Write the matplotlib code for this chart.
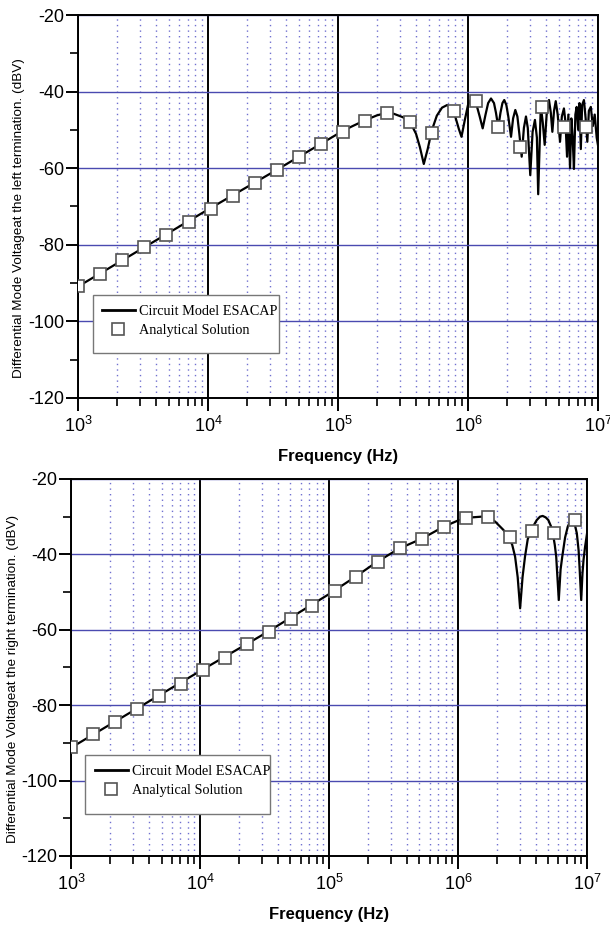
import numpy as np
import matplotlib
matplotlib.use('Agg')
import matplotlib.pyplot as plt
from matplotlib.lines import Line2D
from matplotlib.patches import Rectangle
from matplotlib.ticker import FixedLocator, MultipleLocator, LogLocator, FuncFormatter, NullFormatter

plt.rcParams['font.family'] = ['Liberation Sans', 'DejaVu Sans']
plt.rcParams['axes.unicode_minus'] = False

# marker frequencies (Hz), shared by both panels
marker_freq = [1.00e3, 1.48e3, 2.19e3, 3.24e3, 4.79e3, 7.08e3, 1.05e4, 1.55e4,
               2.29e4, 3.39e4, 5.01e4, 7.41e4, 1.10e5, 1.62e5, 2.40e5, 3.55e5,
               5.25e5, 7.76e5, 1.15e6, 1.70e6, 2.51e6, 3.72e6, 5.50e6, 8.13e6]

# analytical solution, left termination (dBV)
left_marker_db = [-90.8, -87.5, -84.0, -80.7, -77.4, -74.0, -70.7, -67.3,
                  -63.8, -60.5, -57.0, -53.8, -50.5, -47.7, -45.7, -47.9,
                  -50.7, -45.0, -42.4, -49.2, -54.5, -44.1, -49.2, -49.2]

# analytical solution, right termination (dBV)
right_marker_db = [-91.2, -87.7, -84.4, -80.9, -77.5, -74.3, -70.7, -67.4,
                   -63.9, -60.6, -57.2, -53.7, -49.7, -45.9, -41.9, -38.4,
                   -36.0, -32.7, -30.4, -30.0, -35.5, -33.7, -34.4, -31.0]

# circuit model ESACAP, left termination: log10(f) and dBV
left_logf = [3.0, 4.0, 4.5, 5.0, 5.1, 5.2, 5.3, 5.37, 5.43, 5.5, 5.56, 5.6, 5.63,
             5.66, 5.69, 5.72, 5.76, 5.8, 5.84, 5.87, 5.9, 5.93, 5.95, 5.975, 6.0,
             6.02, 6.04, 6.07, 6.09, 6.113, 6.135, 6.155, 6.177, 6.2, 6.215, 6.233,
             6.25, 6.265, 6.279, 6.295, 6.31, 6.331, 6.347, 6.364, 6.38, 6.395,
             6.413, 6.43, 6.446, 6.46, 6.479, 6.497, 6.515, 6.53, 6.54, 6.56,
             6.575, 6.59, 6.605, 6.623, 6.637, 6.649, 6.662, 6.675, 6.69, 6.708,
             6.722, 6.738, 6.75, 6.762, 6.772, 6.785, 6.795, 6.805, 6.815, 6.826,
             6.836, 6.848, 6.858, 6.868, 6.878, 6.892, 6.905, 6.918, 6.93, 6.945,
             6.96, 6.975, 6.99, 7.0]
left_db = [-90.9, -70.8, -61.0, -51.0, -49.2, -47.6, -46.2, -45.6, -45.8, -46.7,
           -48.3, -51.0, -54.5, -58.9, -55.0, -50.3, -46.3, -44.2, -43.5, -44.3,
           -46.3, -49.8, -51.8, -47.5, -43.5, -42.2, -42.3, -44.0, -46.5, -49.6,
           -46.0, -43.0, -41.8, -43.0, -45.5, -49.3, -45.5, -43.0, -42.2, -43.5,
           -46.5, -51.8, -47.0, -44.8, -46.5, -51.0, -57.0, -49.5, -46.5, -49.5,
           -61.8, -50.5, -47.4, -52.0, -66.8, -43.8, -48.0, -53.9, -46.0, -42.2,
           -45.5, -50.5, -45.0, -42.5, -46.0, -53.1, -46.5, -44.4, -48.0, -57.0,
           -46.0, -60.0, -47.0, -52.0, -60.2, -46.0, -44.0, -50.0, -43.0, -55.0,
           -43.5, -42.2, -47.0, -53.1, -45.0, -44.0, -49.0, -46.0, -52.0, -54.0]

# circuit model ESACAP, right termination: log10(f) and dBV
right_logf = [3.0, 4.0, 4.5, 5.0, 5.2, 5.37, 5.54, 5.72, 5.88, 6.0, 6.1, 6.22,
              6.287, 6.351, 6.395, 6.42, 6.442, 6.462, 6.481, 6.5, 6.519, 6.54,
              6.563, 6.61, 6.635, 6.656, 6.68, 6.7, 6.72, 6.735, 6.75, 6.761,
              6.781, 6.795, 6.808, 6.83, 6.851, 6.87, 6.89, 6.905, 6.921, 6.935,
              6.942, 6.955, 6.965, 6.973, 6.985, 7.0]
right_db = [-91.2, -70.9, -61.0, -50.5, -46.0, -42.0, -38.5, -35.8, -32.8, -31.0,
            -30.2, -29.9, -31.3, -33.5, -35.5, -37.5, -40.6, -46.0, -54.3, -46.0,
            -40.6, -36.0, -33.7, -30.9, -30.0, -29.8, -30.2, -30.9, -32.5, -34.4,
            -37.5, -40.6, -52.1, -44.0, -40.6, -35.5, -32.6, -31.3, -31.0, -32.0,
            -34.4, -39.0, -43.3, -52.1, -45.0, -41.5, -38.0, -34.5]

LINE_attr = {'color': 'black', 'lw': 1.6, 'zorder': 3}
MARK_attr = {'ls': 'none', 'marker': 's', 'ms': 8, 'mfc': 'white',
             'mec': '#555555', 'mew': 1.2, 'zorder': 4}
BLUE = '#4a4ab0'


def decade_fmt(v, pos):
    return r'$\mathregular{10^{%d}}$' % int(round(np.log10(v)))


def draw_panel(ax, logf, db, mk_db, ylabel, box, leg_anchor):
    ax.set_xscale('log')
    ax.set_xlim(1e3, 1e7)
    ax.set_ylim(-120, -20)
    ax.plot(10 ** np.array(logf), db, **LINE_attr)
    ax.plot(marker_freq, mk_db, **MARK_attr)

    ax.xaxis.set_major_locator(FixedLocator([1e3, 1e4, 1e5, 1e6, 1e7]))
    ax.xaxis.set_minor_locator(LogLocator(base=10, subs=np.arange(2, 10)))
    ax.xaxis.set_major_formatter(FuncFormatter(decade_fmt))
    ax.xaxis.set_minor_formatter(NullFormatter())
    ax.yaxis.set_major_locator(MultipleLocator(20))
    ax.yaxis.set_minor_locator(MultipleLocator(10))

    ax.grid(axis='x', which='major', color='black', lw=1.4, ls='-')
    ax.grid(axis='x', which='minor', color='#7070d0', lw=1.0, ls=(0, (1, 3)))
    ax.grid(axis='y', which='major', color=BLUE, lw=1.0, ls='-')
    ax.set_axisbelow(True)

    ax.tick_params(which='major', direction='out', length=9, width=1.4,
                   labelsize=13, pad=1)
    ax.tick_params(which='minor', direction='out', length=6, width=1.2)
    ax.tick_params(axis='x', which='major', pad=4)
    for s in ax.spines.values():
        s.set_linewidth(1.4)

    ax.set_ylabel(ylabel, fontsize=9.7)
    ax.yaxis.set_label_coords(-0.102, 0.47)
    ax.set_xlabel('Frequency (Hz)', fontsize=12, fontweight='bold')
    ax.xaxis.set_label_coords(0.5, -0.134)

    # legend box drawn by hand (taller than the entries, as in the original)
    ax.add_patch(Rectangle(box[:2], box[2], box[3], transform=ax.transAxes,
                           facecolor='white', edgecolor='#777777', lw=1.0,
                           zorder=5))
    handles = [Line2D([0], [0], color='black', lw=2.0, label='Circuit Model ESACAP'),
               Line2D([0], [0], ls='none', marker='s', ms=8, mfc='white',
                      mec='#555555', mew=1.2, label='Analytical Solution')]
    leg = ax.legend(handles=handles, loc='upper left', bbox_to_anchor=leg_anchor,
                    prop={'family': 'Liberation Serif', 'size': 10.3},
                    frameon=False, handlelength=2.3, handletextpad=0.3,
                    labelspacing=0.4, borderpad=0, borderaxespad=0)
    leg.set_zorder(6)


fig = plt.figure(figsize=(6.10, 9.27), dpi=100)
ax1 = fig.add_axes([0.1279, 0.5707, 0.8524, 0.4131])
ax2 = fig.add_axes([0.1172, 0.0766, 0.8451, 0.4067])

draw_panel(ax1, left_logf, left_db, left_marker_db,
           'Differential Mode Voltageat the left termination. (dBV)',
           (0.0288, 0.1175, 0.358, 0.1514), (0.046, 0.242))
draw_panel(ax2, right_logf, right_db, right_marker_db,
           'Differential Mode Voltageat the right termination. (dBV)',
           (0.0262, 0.1114, 0.359, 0.1565), (0.0456, 0.2407))

fig.savefig('out.png', dpi=100)
